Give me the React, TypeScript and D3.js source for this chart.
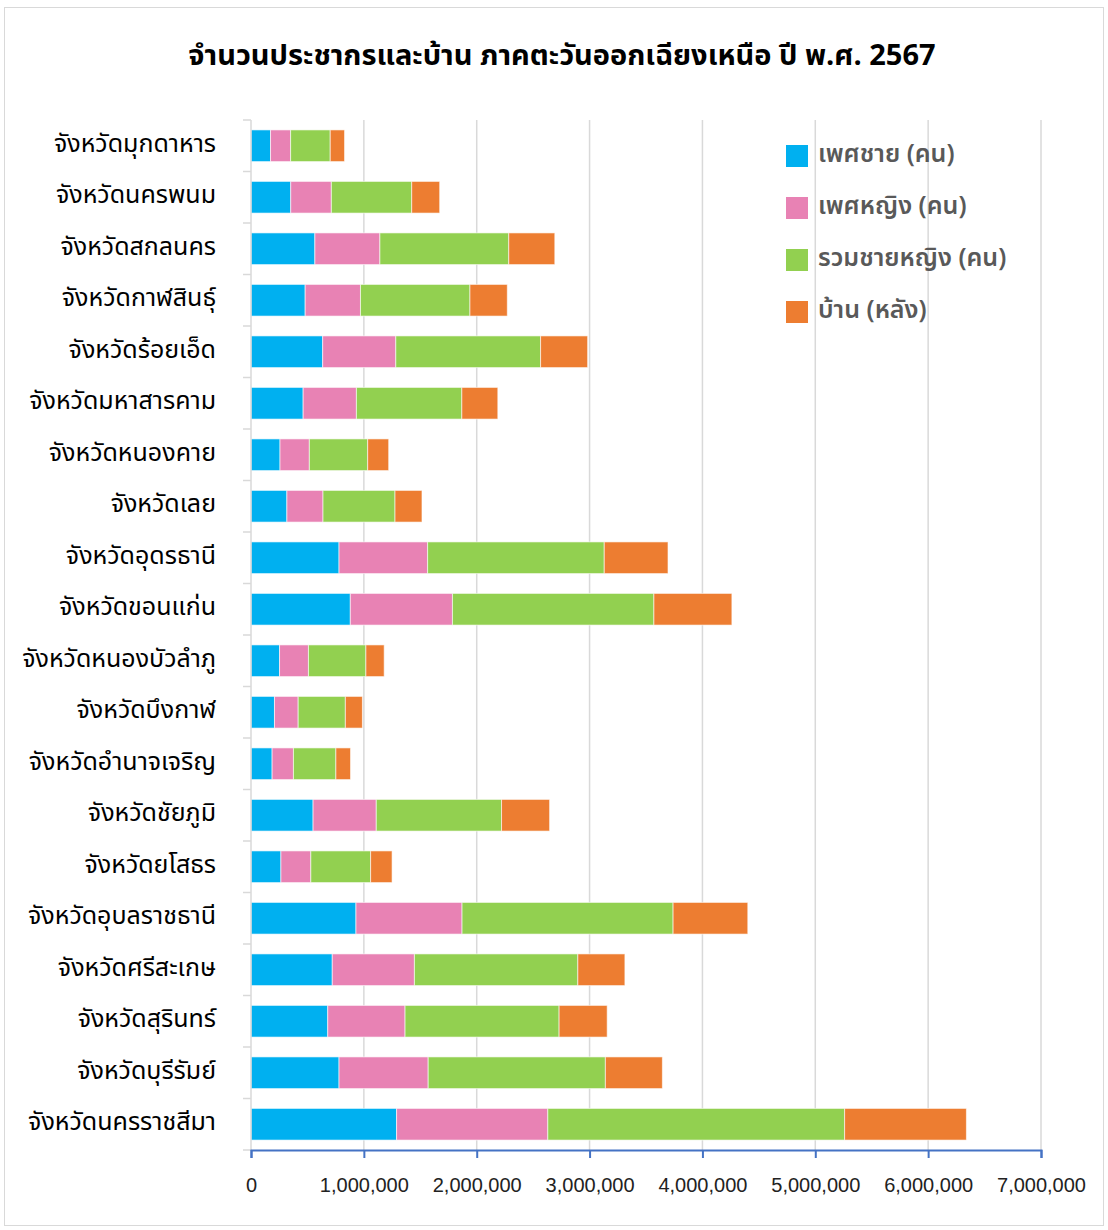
import React, { useEffect, useRef } from 'react';
import * as d3 from 'd3';

const provinces = [
    'จังหวัดมุกดาหาร', 'จังหวัดนครพนม', 'จังหวัดสกลนคร', 'จังหวัดกาฬสินธุ์', 'จังหวัดร้อยเอ็ด',
    'จังหวัดมหาสารคาม', 'จังหวัดหนองคาย', 'จังหวัดเลย', 'จังหวัดอุดรธานี', 'จังหวัดขอนแก่น',
    'จังหวัดหนองบัวลำภู', 'จังหวัดบึงกาฬ', 'จังหวัดอำนาจเจริญ', 'จังหวัดชัยภูมิ', 'จังหวัดยโสธร',
    'จังหวัดอุบลราชธานี', 'จังหวัดศรีสะเกษ', 'จังหวัดสุรินทร์', 'จังหวัดบุรีรัมย์', 'จังหวัดนครราชสีมา'
];

const male = [
    173000, 352000, 566000, 480000, 635000, 462000, 257000, 318000, 780000, 880000,
    253000, 208000, 187000, 550000, 265000, 930000, 720000, 680000, 780000, 1290000
];
const female = [
    178000, 360000, 576000, 490000, 648000, 472000, 260000, 320000, 785000, 905000,
    256000, 210000, 189000, 560000, 265000, 940000, 728000, 685000, 790000, 1340000
];
const total = [
    351000, 712000, 1142000, 970000, 1283000, 934000, 517000, 638000, 1565000, 1785000,
    509000, 418000, 376000, 1110000, 530000, 1870000, 1448000, 1365000, 1570000, 2630000
];
const houses = [
    127000, 248000, 408000, 331000, 417000, 319000, 186000, 239000, 565000, 691000,
    162000, 151000, 130000, 426000, 190000, 662000, 417000, 426000, 505000, 1079000
];

const seriesNames = ['เพศชาย (คน)', 'เพศหญิง (คน)', 'รวมชายหญิง (คน)', 'บ้าน (หลัง)'];
const seriesColors = ['#00B0F0', '#E882B4', '#92D050', '#ED7D31'];
const xTicks = [0, 1000000, 2000000, 3000000, 4000000, 5000000, 6000000, 7000000];

const W = 1108;
const H = 1230;
const thaiFont = "'Noto Sans Thai', 'Tahoma', 'DejaVu Sans', 'Noto Sans', sans-serif";

export default function App() {
    const svgRef = useRef<SVGSVGElement>(null);

    useEffect(() => {
        if (!svgRef.current) return;
        const svg = d3.select(svgRef.current);
        svg.selectAll('*').remove();

        const plot = { left: 251, right: 1041, top: 120, bottom: 1150 };

        // outer frame
        svg.append('rect')
            .attr('x', 4.5).attr('y', 7.5)
            .attr('width', W - 9).attr('height', H - 12)
            .attr('fill', '#fff')
            .attr('stroke', '#d9d9d9');

        svg.append('text')
            .attr('x', 562).attr('y', 56)
            .attr('text-anchor', 'middle')
            .attr('dominant-baseline', 'central')
            .style('font-family', thaiFont)
            .style('font-size', '29px')
            .style('font-weight', 'bold')
            .style('fill', '#000')
            .text('จำนวนประชากรและบ้าน ภาคตะวันออกเฉียงเหนือ ปี พ.ศ. 2567');

        const x = d3.scaleLinear().domain([0, 7000000]).range([plot.left, plot.right]);
        const y = d3.scaleBand<string>()
            .domain(provinces)
            .range([plot.top, plot.bottom])
            .paddingInner(0.385)
            .paddingOuter(0.1925);

        // gridlines
        svg.append('g')
            .selectAll('line')
            .data(xTicks.slice(1))
            .join('line')
            .attr('x1', d => x(d)).attr('x2', d => x(d))
            .attr('y1', plot.top).attr('y2', plot.bottom)
            .attr('stroke', '#d9d9d9')
            .attr('stroke-width', 1.5);

        // stacked bars
        const rows = provinces.map((p, i) => ({
            name: p,
            male: male[i],
            female: female[i],
            total: total[i],
            houses: houses[i]
        }));
        const keys = ['male', 'female', 'total', 'houses'];
        const stack = d3.stack<any>().keys(keys)(rows);

        stack.forEach((layer, k) => {
            svg.append('g')
                .selectAll('rect')
                .data(layer)
                .join('rect')
                .attr('x', d => x(d[0]))
                .attr('y', d => y(d.data.name) as number)
                .attr('width', d => x(d[1]) - x(d[0]))
                .attr('height', y.bandwidth())
                .attr('fill', seriesColors[k])
                .attr('stroke', 'rgba(255,255,255,0.6)')
                .attr('stroke-width', 1);
        });

        // y axis (gray)
        const yAxis = svg.append('g');
        yAxis.append('line')
            .attr('x1', plot.left).attr('x2', plot.left)
            .attr('y1', plot.top).attr('y2', plot.bottom)
            .attr('stroke', '#d9d9d9').attr('stroke-width', 1.5);
        const step = y.step();
        yAxis.selectAll('line.tick')
            .data(d3.range(provinces.length + 1))
            .join('line')
            .attr('class', 'tick')
            .attr('x1', plot.left - 8).attr('x2', plot.left)
            .attr('y1', i => plot.top + i * step).attr('y2', i => plot.top + i * step)
            .attr('stroke', '#d9d9d9').attr('stroke-width', 1.5);
        yAxis.selectAll('text')
            .data(provinces)
            .join('text')
            .attr('x', 216)
            .attr('y', d => (y(d) as number) + y.bandwidth() / 2 - 2)
            .attr('text-anchor', 'end')
            .attr('dominant-baseline', 'central')
            .style('font-family', thaiFont)
            .style('font-size', '25px')
            .style('fill', '#000')
            .text(d => d);

        // x axis (blue)
        const xAxis = svg.append('g')
            .attr('transform', `translate(0,${plot.bottom})`)
            .call(d3.axisBottom(x).tickValues(xTicks).tickSize(8).tickPadding(20)
                .tickFormat(d => d3.format(',')(d as number)));
        xAxis.select('.domain').attr('stroke', '#4472C4').attr('stroke-width', 2);
        xAxis.selectAll('.tick line').attr('stroke', '#4472C4').attr('stroke-width', 2);
        xAxis.selectAll('.tick text')
            .style('font-family', "'Liberation Sans', Arial, sans-serif")
            .style('font-size', '20px')
            .style('fill', '#222');

        // legend
        const legend = svg.append('g');
        seriesNames.forEach((name, i) => {
            const ly = 145 + i * 52;
            legend.append('rect')
                .attr('x', 786).attr('y', ly)
                .attr('width', 22).attr('height', 22)
                .attr('fill', seriesColors[i]);
            legend.append('text')
                .attr('x', 818).attr('y', ly + 9)
                .attr('dominant-baseline', 'central')
                .style('font-family', thaiFont)
                .style('font-size', '25px')
                .style('font-weight', 600)
                .style('fill', '#595959')
                .text(name);
        });
    }, []);

    return (
        <svg
            ref={svgRef}
            width={W}
            height={H}
            style={{ position: 'absolute', left: 0, top: 0, background: '#fff' }}
        />
    );
}
